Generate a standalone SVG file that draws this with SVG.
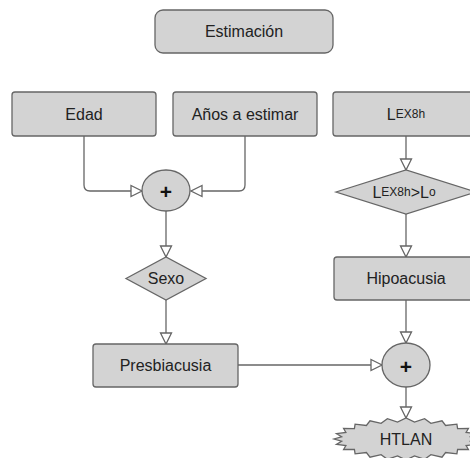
<svg xmlns="http://www.w3.org/2000/svg" width="470" height="458" viewBox="0 0 470 458">
<defs>
<style>
.n{fill:#d3d3d3;stroke:#666;stroke-width:1.3}
.t{font-family:"Liberation Sans",Arial,sans-serif;font-size:16px;fill:#222;text-anchor:middle;dominant-baseline:central}
.s{font-size:12px}
.c{fill:none;stroke:#666;stroke-width:1.3}
.p{font-family:"Liberation Sans",Arial,sans-serif;font-size:21px;font-weight:bold;fill:#111;text-anchor:middle;dominant-baseline:central}
</style>
<marker id="a" markerUnits="userSpaceOnUse" markerWidth="14" markerHeight="14" viewBox="0 0 14 14" refX="12" refY="7" orient="auto">
<path d="M1,1.5 L12,7 L1,12.5 Z" fill="#fff" stroke="#666" stroke-width="1.3"/>
</marker>
</defs>
<rect width="470" height="458" fill="#fff"/>
<g id="connectors">
<path class="c" d="M84,136 V185 Q84,191 90,191 H142" marker-end="url(#a)"/>
<path class="c" d="M245,136 V185 Q245,191 239,191 H191" marker-end="url(#a)"/>
<path class="c" d="M166,211 V257" marker-end="url(#a)"/>
<path class="c" d="M166,300 V344" marker-end="url(#a)"/>
<path class="c" d="M238,365 H382" marker-end="url(#a)"/>
<path class="c" d="M406,136 V170" marker-end="url(#a)"/>
<path class="c" d="M406,214 V257" marker-end="url(#a)"/>
<path class="c" d="M406,300 V343" marker-end="url(#a)"/>
<path class="c" d="M406,387 V418" marker-end="url(#a)"/>
</g>
<g id="estimacion"><rect class="n" x="155" y="10" width="178" height="43" rx="8"/><text class="t" x="244" y="31.5">Estimación</text></g>
<g id="edad"><rect class="n" x="12" y="92" width="144" height="44" rx="3"/><text class="t" x="84" y="114">Edad</text></g>
<g id="anos"><rect class="n" x="173" y="92" width="144" height="44" rx="3"/><text class="t" x="245" y="114">Años a estimar</text></g>
<g id="lex"><rect class="n" x="333" y="92" width="146" height="44" rx="3"/><text class="t" x="406" y="114">L<tspan class="s">EX8h</tspan></text></g>
<g id="suma1"><ellipse class="n" cx="166" cy="190.5" rx="24" ry="20.5"/><text class="p" x="166" y="191">+</text></g>
<g id="cond"><path class="n" d="M336,192 L406,170 L476,192 L406,214 Z"/><text class="t" x="404" y="192">L<tspan class="s">EX8h</tspan>&gt;L<tspan class="s">o</tspan></text></g>
<g id="sexo"><path class="n" d="M126,278.5 L166,257 L206,278.5 L166,300 Z"/><text class="t" x="166" y="278.5">Sexo</text></g>
<g id="hipo"><rect class="n" x="334" y="257" width="145" height="43" rx="3"/><text class="t" x="406" y="278.5">Hipoacusia</text></g>
<g id="presbi"><rect class="n" x="93" y="344" width="145" height="43" rx="3"/><text class="t" x="165.5" y="365.5">Presbiacusia</text></g>
<g id="suma2"><ellipse class="n" cx="406" cy="365" rx="24" ry="22"/><text class="p" x="406" y="366">+</text></g>
<g id="htlan"><path class="n" d="M478,439 L470.4,441.2 L475.5,444.4 L466.1,445.5 L468.4,449.5 L457.6,449.3 L456.9,453.8 L445.6,452.5 L442,457.2 L430.9,454.7 L424.6,459.3 L414.5,455.9 L406,460 L397.5,455.9 L387.4,459.3 L381.1,454.7 L370,457.2 L366.4,452.5 L355.1,453.8 L354.4,449.3 L343.6,449.5 L345.9,445.5 L336.5,444.4 L341.6,441.2 L334,439 L341.6,436.8 L336.5,433.6 L345.9,432.5 L343.6,428.5 L354.4,428.7 L355.1,424.2 L366.4,425.5 L370,420.8 L381.1,423.3 L387.4,418.7 L397.5,422.1 L406,418 L414.5,422.1 L424.6,418.7 L430.9,423.3 L442,420.8 L445.6,425.5 L456.9,424.2 L457.6,428.7 L468.4,428.5 L466.1,432.5 L475.5,433.6 L470.4,436.8 Z"/><text class="t" x="406" y="439">HTLAN</text></g>
</svg>
